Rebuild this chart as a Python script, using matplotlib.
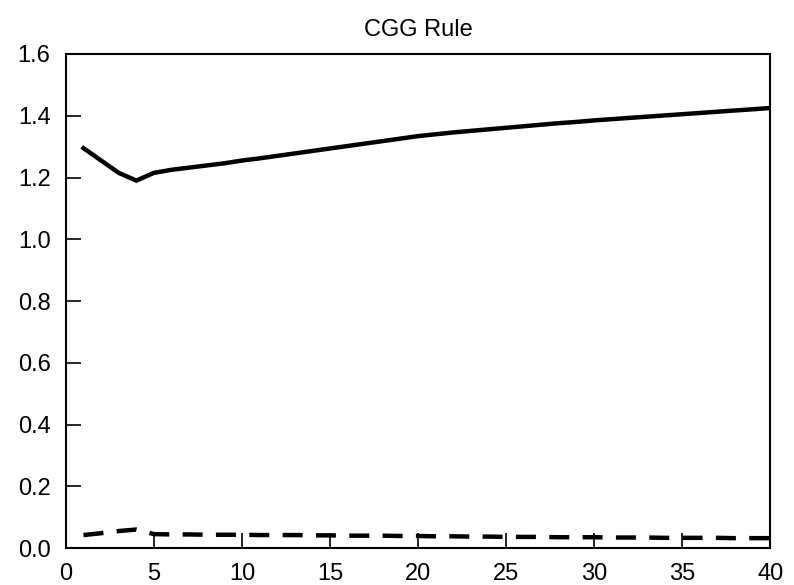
import matplotlib
matplotlib.use("Agg")
import matplotlib.pyplot as plt

x = list(range(1, 41))
solid = [1.295, 1.255, 1.215, 1.190, 1.215, 1.225, 1.232, 1.239, 1.246, 1.255,
         1.262, 1.270, 1.278, 1.286, 1.294, 1.302, 1.310, 1.318, 1.326, 1.334,
         1.340, 1.346, 1.351, 1.356, 1.361, 1.366, 1.371, 1.376, 1.380, 1.385,
         1.389, 1.393, 1.397, 1.401, 1.405, 1.409, 1.413, 1.417, 1.421, 1.425]
dashed = [0.042, 0.048, 0.055, 0.060, 0.045, 0.044, 0.044, 0.043, 0.043, 0.043,
          0.042, 0.042, 0.042, 0.041, 0.041, 0.040, 0.040, 0.040, 0.039, 0.039,
          0.038, 0.038, 0.037, 0.037, 0.036, 0.036, 0.036, 0.035, 0.035, 0.035,
          0.034, 0.034, 0.034, 0.033, 0.033, 0.033, 0.033, 0.032, 0.032, 0.032]
xticks = [0, 5, 10, 15, 20, 25, 30, 35, 40]
yticks = [0.0, 0.2, 0.4, 0.6, 0.8, 1.0, 1.2, 1.4, 1.6]
title = "CGG Rule"

plt.rcParams['font.family'] = ['Liberation Sans', 'DejaVu Sans']
fig = plt.figure(figsize=(7.94, 5.85), dpi=100)
ax = fig.add_axes([0.083, 0.0632, 0.887, 0.8445])
ax.plot(x, solid, color='black', lw=3.2, solid_joinstyle='miter')
ax.plot(x, dashed, color='black', lw=3.2, dashes=(4.5, 3), dash_capstyle='butt')
ax.set_xlim(0, 40)
ax.set_ylim(0, 1.6)
ax.set_xticks(xticks)
ax.set_xticklabels([str(t) for t in xticks])
ax.set_yticks(yticks)
ax.set_yticklabels([f"{t:.1f}" for t in yticks])
ax.tick_params(direction='in', length=11, width=1.2, labelsize=17, colors='black')
ax.tick_params(axis='x', pad=11)
ax.tick_params(axis='y', pad=11)
for s in ax.spines.values():
    s.set_linewidth(1.5)
ax.set_title(title, fontsize=17, pad=13)
fig.savefig("out.png", dpi=100)
